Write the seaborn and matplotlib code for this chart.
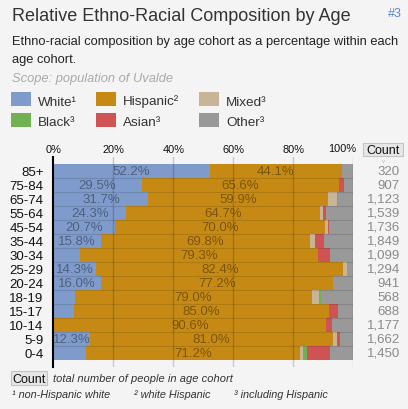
import numpy as np
import pandas as pd
import matplotlib
matplotlib.use("Agg")
import matplotlib.pyplot as plt
import matplotlib.patches as patches
import seaborn as sns

# -----------------------------
# Data (percent within each age cohort)
# -----------------------------
ages = ["85+", "75-84", "65-74", "55-64", "45-54", "35-44", "30-34",
        "25-29", "20-24", "18-19", "15-17", "10-14", "5-9", "0-4"]
white = [52.2, 29.5, 31.7, 24.3, 20.7, 15.8, 8.9, 14.3, 16.0, 7.2, 6.9, 0.4, 12.3, 11.0]
hispanic = [44.1, 65.6, 59.9, 64.7, 70.0, 69.8, 79.3, 82.4, 77.2, 79.0, 85.0, 90.6, 81.0, 71.2]
mixed = [0.0, 0.0, 3.0, 0.8, 0.9, 1.7, 0.0, 1.3, 0.0, 2.3, 0.0, 0.0, 1.3, 1.1]
black = [0.0, 0.0, 0.2, 0.0, 0.0, 0.0, 0.0, 0.0, 0.0, 0.7, 0.0, 0.0, 0.0, 1.3]
asian = [0.0, 1.7, 0.0, 1.0, 0.4, 2.9, 4.0, 0.0, 0.0, 0.0, 3.0, 1.8, 0.9, 7.7]
other = [3.7, 3.2, 5.2, 9.2, 8.0, 9.8, 7.8, 2.0, 6.8, 10.8, 5.1, 7.2, 4.5, 7.7]
counts = [320, 907, 1123, 1539, 1736, 1849, 1099, 1294, 941, 568, 688, 1177, 1662, 1450]

groups = ["White", "Hispanic", "Mixed", "Black", "Asian", "Other"]
legend_labels = ["White¹", "Hispanic²", "Mixed³", "Black³", "Asian³", "Other³"]
colors = ["#7f9bcb", "#c68a14", "#c8b497", "#72b152", "#cf5353", "#999999"]

df = pd.DataFrame({"age": ages, "White": white, "Hispanic": hispanic,
                   "Mixed": mixed, "Black": black, "Asian": asian,
                   "Other": other})
cum = df[groups].cumsum(axis=1)
cum["age"] = df["age"]

# -----------------------------
# Figure
# -----------------------------
sns.set_style("white")
plt.rcParams["font.family"] = ["Liberation Sans", "DejaVu Sans"]

W, H = 408, 410
bg = "#f4f4f4"
fig = plt.figure(figsize=(W / 100, H / 100), dpi=100, facecolor=bg)


def fx(x):
    return x / W


def fy(y):
    return 1 - y / H


ax = fig.add_axes([fx(53.3), fy(367.7), 300 / W, (367.7 - 158) / H])
ax.set_facecolor(bg)

# stacked bars: draw cumulative totals from the end backwards
for g, c in reversed(list(zip(groups, colors))):
    sns.barplot(data=cum, x=g, y="age", order=ages, color=c, width=1,
                saturation=1, errorbar=None, orient="h", linewidth=0, ax=ax)

ax.set_xlim(0, 100)
ax.set_ylim(14, -1)
ax.set_xlabel("")
ax.set_ylabel("")

# grid on top of bars
ax.set_axisbelow(False)
ax.set_xticks([0, 20, 40, 60, 80, 100])
ax.set_xticklabels(["0%", "20%", "40%", "60%", "80%", ""])
ax.xaxis.tick_top()
ax.tick_params(axis="x", length=0, pad=2, labelsize=7.9, labelcolor="#111")
ax.tick_params(axis="y", length=0, pad=7, labelsize=9.5, labelcolor="#111")
# last tick label pulled left so it clears the Count header
ax.text((356 - 53.3) / 300, 1 + 3.5 / 209.7, "100%", ha="right", va="bottom",
        fontsize=7.9, color="#111", transform=ax.transAxes, clip_on=False)
for xv in [20, 40, 60, 80, 100]:
    ax.axvline(xv, color="black", alpha=0.18, lw=1, zorder=5)
for i in range(len(ages) - 1):
    ax.hlines(i + 0.5, 0, 100, color="black", alpha=0.12, lw=0.8, zorder=4)

for s in ["top", "right", "bottom"]:
    ax.spines[s].set_visible(False)
ax.spines["left"].set_color("black")
ax.spines["left"].set_linewidth(1.5)
ax.spines["left"].set_zorder(6)

# percent labels
for i in range(len(ages)):
    if white[i] >= 12:
        ax.text(white[i] / 2, i, f"{white[i]:.1f}%", ha="center", va="center",
                fontsize=9.5, color="black", alpha=0.38, zorder=7)
    ax.text(white[i] + hispanic[i] / 2, i, f"{hispanic[i]:.1f}%", ha="center",
            va="center", fontsize=9.5, color="black", alpha=0.38, zorder=7)
    ax.text((400 - 53.3) / 300, i, f"{counts[i]:,}", ha="right", va="center",
            fontsize=9.5, color="#8a8a8a", transform=ax.get_yaxis_transform(),
            clip_on=False)

# Count header box
fig.patches.append(patches.Rectangle((fx(363), fy(157)), 40 / W, 13 / H,
                                     transform=fig.transFigure, facecolor="#e6e6e6",
                                     edgecolor="#c4c4c4", lw=0.8))
fig.text(fx(383), fy(154), "Count", ha="center", va="baseline", fontsize=9,
         color="#111")
fig.text(fx(383.5), fy(163), "v", ha="center", va="baseline", fontsize=4.5,
         color="#bbbbbb")

# -----------------------------
# Titles
# -----------------------------
fig.text(fx(12), fy(21), "Relative Ethno-Racial Composition by Age",
         fontsize=13, color="#333333", va="baseline")
fig.text(fx(402), fy(17), "#3", fontsize=9, color="#5b87c2", ha="right",
         va="baseline")
fig.text(fx(12), fy(45.5), "Ethno-racial composition by age cohort as a percentage within each",
         fontsize=9.25, color="#222222", va="baseline")
fig.text(fx(12), fy(63.5), "age cohort.", fontsize=9.25, color="#222222",
         va="baseline")
fig.text(fx(12), fy(82), "Scope: population of Uvalde", fontsize=9.25,
         color="#aaaaaa", style="italic", va="baseline")

# legend
leg_x = [11, 96, 199]
leg_y = [93, 114]
for k, (lab, c) in enumerate(zip(legend_labels, colors)):
    col, row = k % 3, k // 3
    x0, y0 = leg_x[col], leg_y[row]
    fig.patches.append(patches.Rectangle((fx(x0), fy(y0 + 14)), 20 / W, 14 / H,
                                         transform=fig.transFigure, facecolor=c,
                                         edgecolor="none"))
    fig.text(fx(x0 + 27), fy(y0 + 12.5), lab, fontsize=9.7, color="#333333",
             va="baseline")

# footer
fig.patches.append(patches.Rectangle((fx(11), fy(386)), 36 / W, 14 / H,
                                     transform=fig.transFigure, facecolor="#e6e6e6",
                                     edgecolor="#c4c4c4", lw=0.8))
fig.text(fx(29), fy(383), "Count", ha="center", va="baseline", fontsize=9,
         color="#111")
fig.text(fx(53), fy(382.5), "total number of people in age cohort", fontsize=8.0,
         style="italic", color="#333333", va="baseline")
fig.text(fx(12), fy(398.5), "¹ non-Hispanic white", fontsize=7.8,
         style="italic", color="#333333", va="baseline")
fig.text(fx(134), fy(398.5), "² white Hispanic", fontsize=7.8,
         style="italic", color="#333333", va="baseline")
fig.text(fx(234), fy(398.5), "³ including Hispanic", fontsize=7.8,
         style="italic", color="#333333", va="baseline")

fig.savefig("out.png", dpi=100, facecolor=bg)
